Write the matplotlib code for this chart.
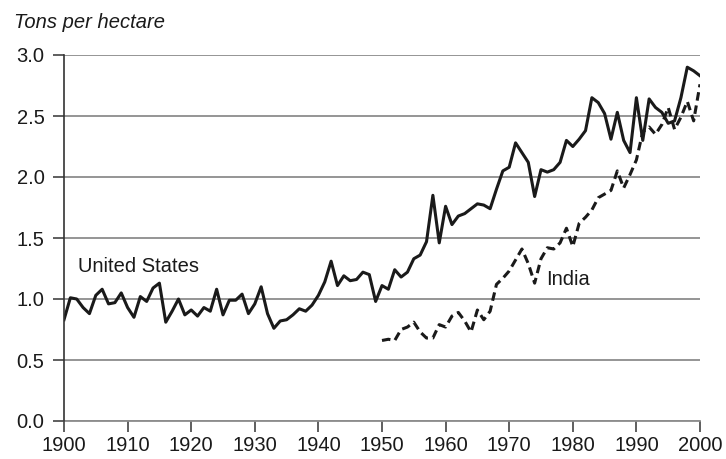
import numpy as np
import matplotlib
matplotlib.use("Agg")
import matplotlib.pyplot as plt

plt.rcParams['font.family'] = ['Liberation Sans', 'DejaVu Sans']

us_years = list(range(1900, 2001))
us_yield = [0.83, 1.01, 1.00, 0.93, 0.88, 1.03, 1.08, 0.96, 0.97, 1.05,
            0.93, 0.85, 1.02, 0.98, 1.09, 1.13, 0.81, 0.90, 1.00, 0.87,
            0.91, 0.86, 0.93, 0.90, 1.08, 0.87, 0.99, 0.99, 1.04, 0.88,
            0.96, 1.10, 0.88, 0.76, 0.82, 0.83, 0.87, 0.92, 0.90, 0.95,
            1.03, 1.14, 1.31, 1.11, 1.19, 1.15, 1.16, 1.22, 1.20, 0.98,
            1.11, 1.08, 1.24, 1.18, 1.22, 1.33, 1.36, 1.47, 1.85, 1.46,
            1.76, 1.61, 1.68, 1.70, 1.74, 1.78, 1.77, 1.74, 1.90, 2.05,
            2.08, 2.28, 2.20, 2.12, 1.84, 2.06, 2.04, 2.06, 2.12, 2.30,
            2.25, 2.31, 2.38, 2.65, 2.61, 2.52, 2.31, 2.53, 2.30, 2.20,
            2.65, 2.30, 2.64, 2.57, 2.53, 2.44, 2.46, 2.65, 2.90, 2.87,
            2.83]

india_years = list(range(1950, 2001))
india_yield = [0.66, 0.67, 0.66, 0.75, 0.77, 0.81, 0.73, 0.68, 0.68, 0.79,
               0.77, 0.86, 0.89, 0.82, 0.73, 0.91, 0.83, 0.90, 1.12, 1.17,
               1.23, 1.32, 1.41, 1.29, 1.13, 1.33, 1.42, 1.41, 1.46, 1.58,
               1.43, 1.62, 1.67, 1.73, 1.83, 1.86, 1.89, 2.05, 1.91, 2.02,
               2.14, 2.37, 2.41, 2.35, 2.43, 2.57, 2.39, 2.49, 2.62, 2.46,
               2.76]

fig = plt.figure(figsize=(7.26, 4.59), dpi=100)
ax = fig.add_axes([64 / 726, 38 / 459, 636 / 726, 366 / 459])

ax.plot(us_years, us_yield, color='#1a1a1a', lw=2.2, zorder=3)
ax.plot(india_years, india_yield, color='#1a1a1a', lw=2.2, ls=(0, (2.8, 1.6)), zorder=3)

ax.set_xlim(1900, 2000)
ax.set_ylim(0, 3.0)
ax.set_xticks(range(1900, 2001, 10))
ax.set_yticks(np.arange(0, 3.01, 0.5))
ax.set_yticklabels(['%.1f' % v for v in np.arange(0, 3.01, 0.5)])
ax.yaxis.grid(True, color='#8c8c8c', lw=1.3)
ax.set_axisbelow(True)

for s in ['top', 'right']:
    ax.spines[s].set_visible(False)
ax.spines['left'].set_color('#333333')
ax.spines['left'].set_linewidth(1.2)
ax.spines['bottom'].set_color('#8c8c8c')
ax.spines['bottom'].set_linewidth(1.3)
ax.spines['left'].set_zorder(4)
ax.tick_params(axis='both', labelsize=14.5, colors='#333333', length=8, width=1.1,
               labelcolor='#1a1a1a')
ax.tick_params(axis='y', pad=6)
ax.tick_params(axis='x', pad=3)

fig.text(14 / 726, 1 - 23 / 459, 'Tons per hectare', fontsize=14.5, style='italic',
         va='center', ha='left', color='#1a1a1a')
ax.text(1902.2, 1.265, 'United States', fontsize=14.5, va='center', ha='left', color='#1a1a1a')
ax.text(1975.8, 1.16, 'India', fontsize=14.5, va='center', ha='left', color='#1a1a1a')

fig.savefig('out.png', dpi=100)
